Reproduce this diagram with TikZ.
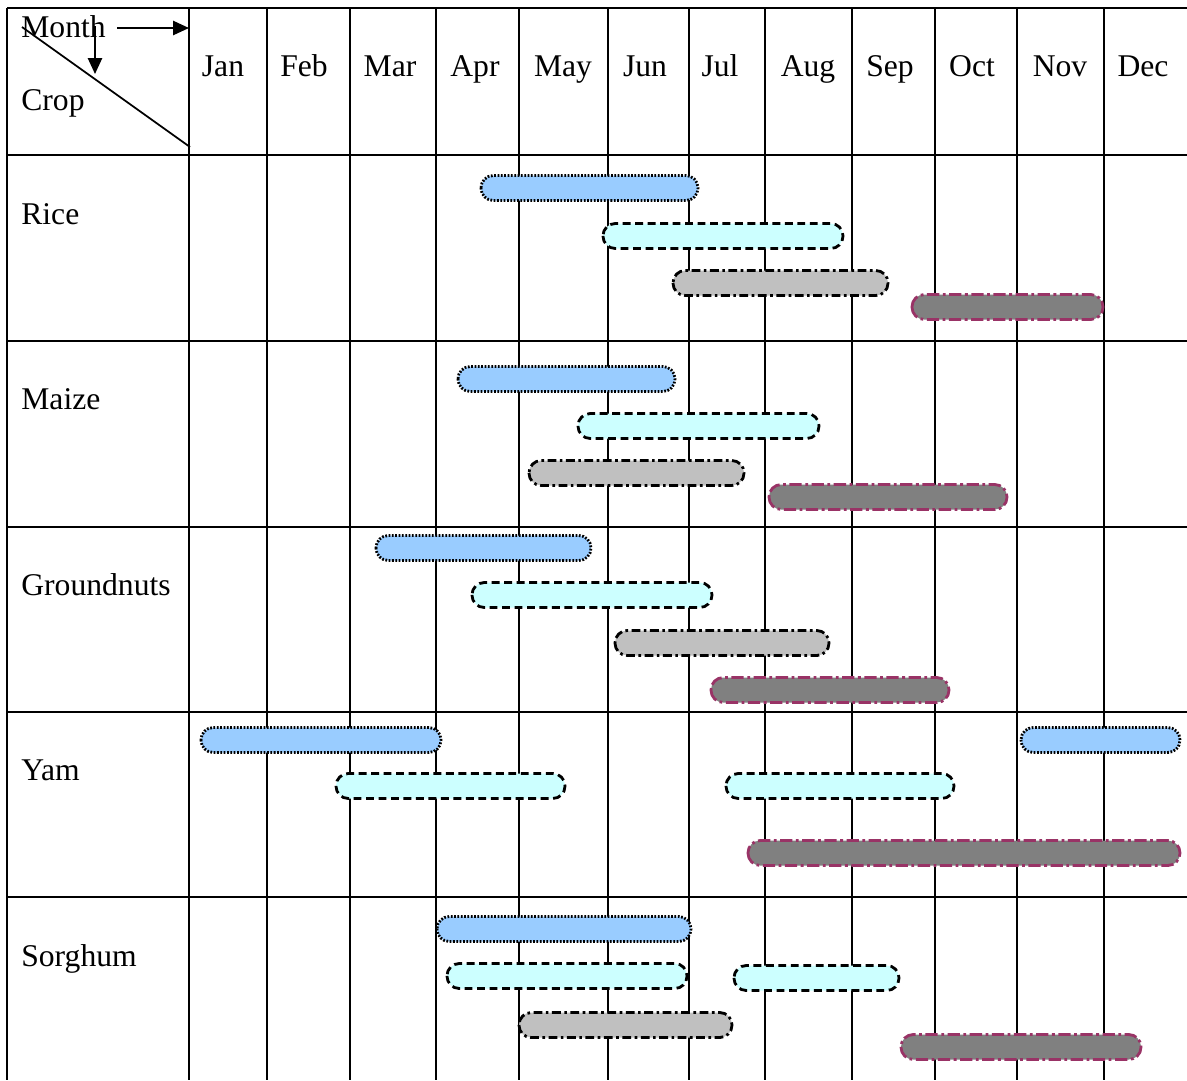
\documentclass[tikz,border=0pt]{standalone}
\usepackage{fontspec}
\setmainfont{Liberation Serif}
\usetikzlibrary{arrows.meta}

\definecolor{sowblue}{HTML}{99CCFF}
\definecolor{growcyan}{HTML}{CCFFFF}
\definecolor{ripegrey}{HTML}{C0C0C0}
\definecolor{harvgrey}{HTML}{808080}
\definecolor{harvedge}{HTML}{993366}

\tikzset{
  gridline/.style={line width=1.1pt},
  cropbar/.style={line width=1.6pt, rounded corners=0.245cm},
  bluebar/.style={cropbar, fill=sowblue, dash pattern=on 1pt off 0.9pt},
  cyanbar/.style={cropbar, fill=growcyan, dash pattern=on 4.5pt off 2.6pt},
  greybar/.style={cropbar, fill=ripegrey, dash pattern=on 5pt off 2pt on 1.5pt off 2pt},
  darkbar/.style={cropbar, draw=harvedge, fill=harvgrey, dash pattern=on 7pt off 2pt on 1.6pt off 2pt},
  lbl/.style={anchor=base, inner sep=0pt, font=\fontsize{18}{21}\selectfont},
  hdrarrow/.style={line width=1.1pt, -{Triangle[length=9pt,width=8pt]}},
}

\begin{document}
\begin{tikzpicture}[x=0.02cm, y=-0.02cm]
    \useasboundingbox (0,0) rectangle (1187,1080);
    \begin{scope}
      % table rules
      \foreach \xl in {7,189,267,350,436,519,608,689,765,852,935,1017,1104}
        \draw[gridline] (\xl,8) -- (\xl,1080);
      \foreach \yl in {8,155,341,527,712,897}
        \draw[gridline] (7,\yl) -- (1187,\yl);

      % header cell
      \coordinate (diagA) at (22,27);
      \coordinate (diagB) at (190,147);
      \draw[line width=1pt] (diagA) -- (diagB);
      \node[lbl, anchor=base west] (month) at (21,37) {Month};
      \node[lbl, anchor=base west] (crop) at (21,110) {Crop};
      \coordinate (rarrA) at (117,28);
      \coordinate (rarrB) at (189,28);
      \coordinate (darrA) at (95,26);
      \coordinate (darrB) at (95,74);
      \draw[hdrarrow] (rarrA) -- (rarrB);
      \draw[hdrarrow] (darrA) -- (darrB);

      \foreach \mon/\xc [count=\i] in {Jan/223,Feb/304,Mar/390,Apr/475,May/563,Jun/645,
                                       Jul/720,Aug/808,Sep/890,Oct/972,Nov/1060,Dec/1143}
        \node[lbl] (mon\i) at (\xc,76) {\mon};

      \node[lbl, anchor=base west] (rice) at (21,224) {Rice};
      \node[lbl, anchor=base west] (maize) at (21,409) {Maize};
      \node[lbl, anchor=base west] (gnuts) at (21,595) {Groundnuts};
      \node[lbl, anchor=base west] (yam) at (21,780) {Yam};
      \node[lbl, anchor=base west] (sorghum) at (21,966) {Sorghum};

      % bars: x from / x to / y centre
      \foreach \xa/\xb/\yc in {481/698/188, 458/675/379, 376/591/548,
                               201/441/740, 1021/1180/740, 437/691/929}
        \draw[bluebar] (\xa,\yc-12.5) rectangle (\xb,\yc+12.5);
      \foreach \xa/\xb/\yc in {603/843/236, 578/819/426, 472/712/595,
                               336/565/786, 726/954/786, 447/687/976, 734/899/978}
        \draw[cyanbar] (\xa,\yc-12.5) rectangle (\xb,\yc+12.5);
      \foreach \xa/\xb/\yc in {673/888/283, 529/744/473, 615/829/643, 519/732/1025}
        \draw[greybar] (\xa,\yc-12.5) rectangle (\xb,\yc+12.5);
      \foreach \xa/\xb/\yc in {912/1103/307, 769/1007/497, 711/949/690,
                               748/1180/853, 901/1141/1047}
        \draw[darkbar] (\xa,\yc-12.5) rectangle (\xb,\yc+12.5);
    \end{scope}
  \end{tikzpicture}
\end{document}
